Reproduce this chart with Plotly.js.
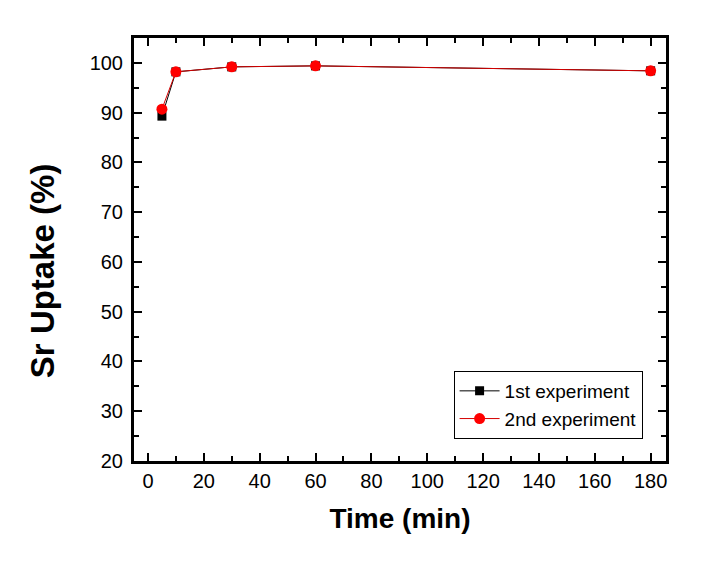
<!DOCTYPE html>
<html>
<head>
<meta charset="utf-8">
<script src="https://cdn.plot.ly/plotly-3.0.1.min.js"></script>
<style>
  body { margin: 0; background: #fff; }
  #graph { width: 702px; height: 565px; }
</style>
</head>
<body>
<div id="graph"></div>
<script>
// time points (min)
const timeMin = [5, 10, 30, 60, 180];

// Sr uptake (%)
const uptake1st = [89.3, 98.2, 99.2, 99.4, 98.4];
const uptake2nd = [90.7, 98.2, 99.2, 99.4, 98.4];

const xTicks = [0, 20, 40, 60, 80, 100, 120, 140, 160, 180];
const yTicks = [20, 30, 40, 50, 60, 70, 80, 90, 100];

const fontFam = "Liberation Sans, Arial, sans-serif";

let trace1 = {
    x: timeMin,
    y: uptake1st,
    mode: "lines+markers",
    type: "scatter",
    name: "1st experiment",
    line: { color: "black", width: 1 },
    marker: { symbol: "square", size: 9, color: "black" }
};

let trace2 = {
    x: timeMin,
    y: uptake2nd,
    mode: "lines+markers",
    type: "scatter",
    name: "2nd experiment",
    line: { color: "#d40000", width: 1 },
    marker: { symbol: "circle", size: 11, color: "#ff0000" }
};

let axisCommon = {
    showline: true,
    linecolor: "black",
    linewidth: 3,
    mirror: "ticks",
    ticks: "inside",
    ticklen: 8,
    tickwidth: 2,
    tickcolor: "black",
    showgrid: false,
    zeroline: false,
    tickfont: { family: fontFam, size: 20, color: "black" }
};

let layout = {
    width: 702,
    height: 565,
    margin: { l: 134, r: 36, t: 38, b: 104 },
    paper_bgcolor: "white",
    plot_bgcolor: "white",
    showlegend: true,
    legend: {
        x: 0.956, y: 0.052,
        xanchor: "right", yanchor: "bottom",
        bgcolor: "white",
        bordercolor: "black",
        borderwidth: 1,
        itemwidth: 40,
        tracegroupgap: 0,
        font: { family: fontFam, size: 19, color: "black" }
    },
    xaxis: Object.assign({}, axisCommon, {
        range: [-5, 185.5],
        tickvals: xTicks,
        minor: { dtick: 10, tick0: 0, ticks: "inside", ticklen: 5, tickwidth: 2, tickcolor: "black" },
        title: {
            text: "Time (min)",
            standoff: 18,
            font: { family: fontFam, size: 28, color: "black", weight: "bold" }
        }
    }),
    yaxis: Object.assign({}, axisCommon, {
        range: [20, 105],
        tickvals: yTicks,
        ticklabelstandoff: 4,
        minor: { dtick: 5, tick0: 0, ticks: "inside", ticklen: 5, tickwidth: 2, tickcolor: "black" },
        title: { text: "" }
    }),
    annotations: [{
        text: "<b>Sr Uptake (%)</b>",
        xref: "paper", yref: "paper",
        x: -0.172, y: 0.45,
        xanchor: "center", yanchor: "middle",
        textangle: -90,
        showarrow: false,
        font: { family: fontFam, size: 33, color: "black" }
    }]
};

Plotly.newPlot("graph", [trace1, trace2], layout, { displayModeBar: false, staticPlot: true });
</script>
</body>
</html>
